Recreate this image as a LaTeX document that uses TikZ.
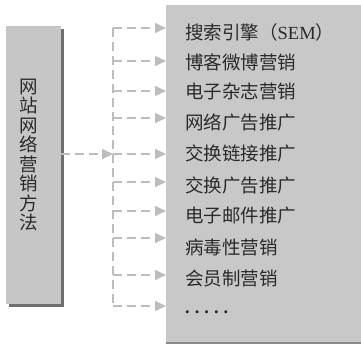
\documentclass[tikz,border=0pt]{standalone}
\usepackage{fontspec}
\setmainfont{Noto Sans CJK SC}
\newfontfamily\latinserif{Liberation Serif}
\usetikzlibrary{arrows.meta}
\definecolor{boxgray}{HTML}{C6C6C6}
\definecolor{panelgray}{HTML}{C8C8C8}
\definecolor{shadowgray}{HTML}{6E6E6E}
\definecolor{dashgray}{HTML}{BDBDBD}
\definecolor{txt}{HTML}{2A2A2A}
\tikzset{
  dashline/.style={draw=dashgray, line width=1.6pt, dash pattern=on 9pt off 5pt},
  dasharrow/.style={dashline, -{Triangle[length=11pt,width=10pt,fill=dashgray]}},
  itemtext/.style={anchor=west, inner sep=0pt, text=txt, font=\fontsize{18.5pt}{20pt}\selectfont},
  vtext/.style={text=txt, font=\fontsize{18.5pt}{19.5pt}\selectfont, align=center, inner sep=0pt}
}
\begin{document}
\begin{tikzpicture}[x=1pt,y=1pt]
\useasboundingbox (0,0) rectangle (361,-345);
% left box with shadow
\fill[shadowgray] (9,-29) rectangle (64,-307);
\node[fill=boxgray, minimum width=55pt, minimum height=278pt, inner sep=0pt, anchor=north west] (lb) at (6,-26) {};
\node[vtext] (lt) at (29,-155) {网\\站\\网\\络\\营\\销\\方\\法};
% right panel
\fill[shadowgray!80] (166,-342) rectangle (361,-344);
\node[fill=panelgray, minimum width=195pt, minimum height=337pt, inner sep=0pt, anchor=north west] (pn) at (166,-5) {};
% branch coordinates
\foreach \i/\y in {1/28,2/61,3/91,4/118,5/154,6/182,7/211,8/238,9/275,10/306}{
  \coordinate (b\i) at (113,-\y);
  \draw[dasharrow] (b\i) -- (pn.west |- b\i);
}
\draw[dashline] (b1) -- (b10);
\draw[dasharrow] (lb.east |- b5) -- (b5);
% items
\node[itemtext] (t1) at (185,-32) {搜索引擎（{\latinserif SEM}）};
\node[itemtext] (t2) at (185,-62) {博客微博营销};
\node[itemtext] (t3) at (185,-91) {电子杂志营销};
\node[itemtext] (t4) at (185,-122) {网络广告推广};
\node[itemtext] (t5) at (185,-153) {交换链接推广};
\node[itemtext] (t6) at (185,-185) {交换广告推广};
\node[itemtext] (t7) at (185,-216) {电子邮件推广};
\node[itemtext] (t8) at (185,-247) {病毒性营销};
\node[itemtext] (t9) at (185,-278) {会员制营销};
\node[itemtext] (t10) at (185,-312) {{\latinserif\bfseries .\hspace{5pt}.\hspace{5pt}.\hspace{5pt}.\hspace{5pt}.}};
\end{tikzpicture}
\end{document}
